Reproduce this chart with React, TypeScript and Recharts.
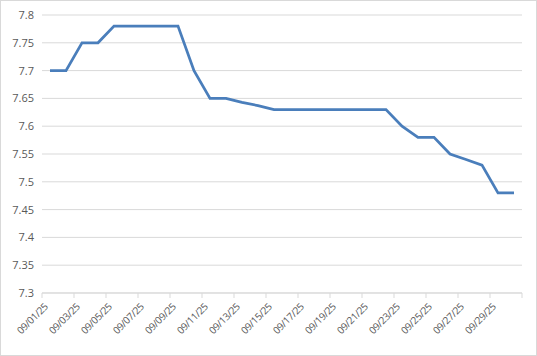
import { CartesianGrid, Line, LineChart, XAxis, YAxis } from "recharts";

const dates = [
  "09/01/25", "09/02/25", "09/03/25", "09/04/25", "09/05/25", "09/06/25",
  "09/07/25", "09/08/25", "09/09/25", "09/10/25", "09/11/25", "09/12/25",
  "09/13/25", "09/14/25", "09/15/25", "09/16/25", "09/17/25", "09/18/25",
  "09/19/25", "09/20/25", "09/21/25", "09/22/25", "09/23/25", "09/24/25",
  "09/25/25", "09/26/25", "09/27/25", "09/28/25", "09/29/25", "09/30/25",
];

const values = [
  7.7, 7.7, 7.75, 7.75, 7.78, 7.78, 7.78, 7.78, 7.78, 7.7, 7.65, 7.65,
  7.643, 7.637, 7.63, 7.63, 7.63, 7.63, 7.63, 7.63, 7.63, 7.63, 7.6, 7.58,
  7.58, 7.55, 7.54, 7.53, 7.48, 7.48,
];

const yTicks = [7.3, 7.35, 7.4, 7.45, 7.5, 7.55, 7.6, 7.65, 7.7, 7.75, 7.8];

// tick marks sit on category boundaries, labels every other day
const xTicks = [0.5, 2.5, 4.5, 6.5, 8.5, 10.5, 12.5, 14.5, 16.5, 18.5, 20.5, 22.5, 24.5, 26.5, 28.5, 30.5];

const data = values.map((value, i) => ({ x: i + 1, date: dates[i], value }));

const font = "'Open Sans', 'Noto Sans', sans-serif";
const textColor = "#595959";
const gridColor = "#d9d9d9";

function DateTick(props: { x?: number; y?: number; payload?: { value: number } }) {
  const { x = 0, y = 0, payload } = props;
  if (!payload) return null;
  const label = dates[Math.round(payload.value - 0.5)];
  if (!label) return <g />;
  return (
    <g transform={`translate(${x + 4},${y + 5})`}>
      <text
        x={0}
        y={0}
        dy="0.35em"
        textAnchor="end"
        transform="rotate(-45)"
        fill={textColor}
        fontSize={10}
        letterSpacing={-0.4}
        fontFamily={font}
      >
        {label}
      </text>
    </g>
  );
}

export default function App() {
  return (
    <div
      style={{
        position: "fixed",
        top: 0,
        left: 0,
        width: 537,
        height: 356,
        boxSizing: "border-box",
        border: `1px solid ${gridColor}`,
        background: "#fff",
      }}
    >
      <LineChart
        width={535}
        height={354}
        data={data}
        margin={{ top: 14, right: 14, left: 0, bottom: 0 }}
        style={{ position: "absolute", top: 0, left: 0 }}
      >
        <CartesianGrid vertical={false} stroke={gridColor} />
        <XAxis
          dataKey="x"
          type="number"
          domain={[0.5, 30.5]}
          ticks={xTicks}
          interval={0}
          height={62}
          stroke={gridColor}
          tickSize={5}
          tick={<DateTick />}
        />
        <YAxis
          domain={[7.3, 7.8]}
          ticks={yTicks}
          interval={0}
          width={41}
          axisLine={false}
          tickLine={false}
          tickSize={0}
          tickMargin={8}
          tick={{ fill: textColor, fontSize: 11, fontFamily: font }}
          tickFormatter={(v: number) => String(Number(v.toFixed(2)))}
        />
        <Line
          type="linear"
          dataKey="value"
          stroke="#4a7ebb"
          strokeWidth={2.75}
          dot={false}
          isAnimationActive={false}
        />
      </LineChart>
    </div>
  );
}
